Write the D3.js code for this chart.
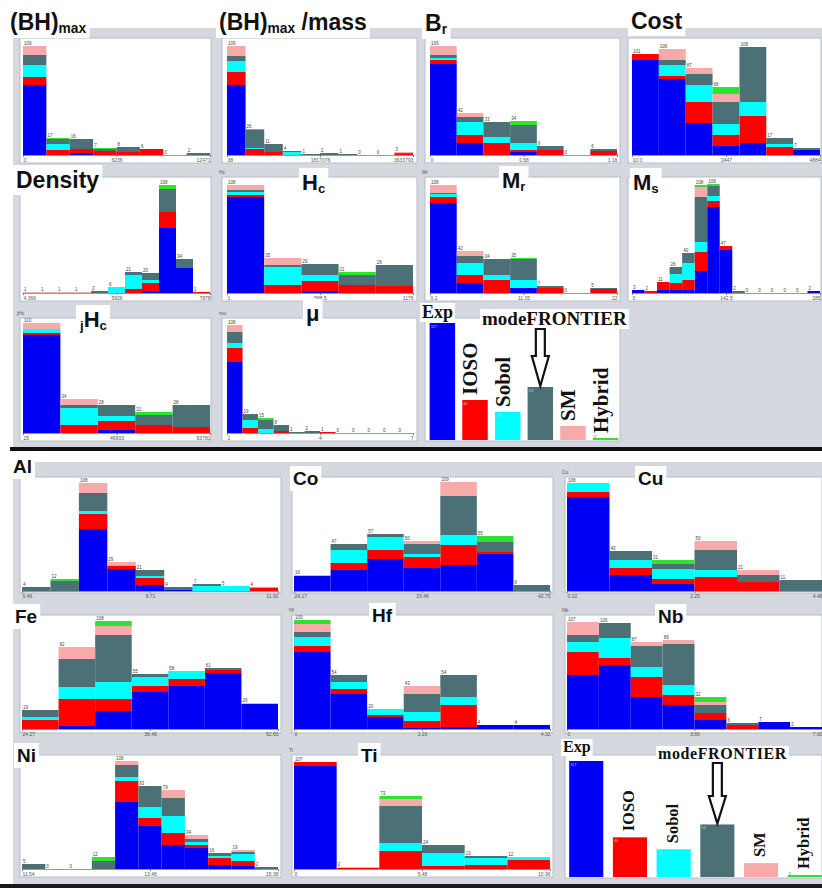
<!DOCTYPE html>
<html><head><meta charset="utf-8">
<script src="https://cdn.jsdelivr.net/npm/d3@7"></script>
<style>
html,body{margin:0;padding:0;background:#fff;}
svg{display:block;}
</style></head><body>
<svg id="chart" width="822" height="888"></svg>
<script>
// Optimisation methods, stacked bottom to top in every histogram
const methods = ["Exp", "IOSO", "Sobol", "modeFRONTIER", "SM", "Hybrid"];
const colors = ["#0000f4", "#ff0000", "#00ffff", "#4b7176", "#f8aaaa", "#2fe22f"];
const methodTotals = [117, 40, 28, 53, 14, 2];

// Histogram bins: one row per bin, counts per method in the order above
const bhmaxBins = [[70,8,12,10,9,0],[0,5,6,5,0,1],[2,4,0,10,0,0],[0,4,0,2,0,1],[0,3,0,5,0,0],[0,6,0,0,0,0],[0,0,0,0,0,0],[0,0,0,2,0,0]];
const bhmaxTicks = ["0", "6236", "12471"];
const bhmassBins = [[70,13,11,5,10,0],[0,6,1,18,0,1],[0,3,0,8,0,0],[0,0,3,1,0,0],[0,0,0,1,0,0],[0,0,0,2,0,0],[0,0,0,1,0,0],[0,0,0,0,0,0],[0,0,0,0,0,0],[0,1,0,1,1,0]];
const bhmassTicks = ["38", "1817076", "3633793"];
const brBins = [[91,4,2,3,9,0],[12,8,13,5,4,0],[0,12,6,15,0,0],[3,2,7,18,0,4],[0,5,0,4,0,0],[0,0,0,0,0,0],[0,4,0,2,0,0]];
const brTicks = ["0", "0.58", "1.16"];
const costBins = [[95,6,0,0,0,0],[76,3,11,5,11,0],[32,21,17,11,6,0],[9,11,11,22,8,7],[12,27,14,55,0,0],[0,8,3,6,0,0],[5,0,0,2,0,0]];
const costTicks = ["10.0", "2447", "4884"];
const densityBins = [[0,0,0,0,1,0],[0,0,0,0,1,0],[0,0,0,0,1,0],[0,0,0,0,1,0],[0,0,0,2,0,0],[0,0,6,0,0,0],[0,4,14,3,0,0],[2,8,3,7,0,0],[65,16,0,23,0,4],[25,0,0,9,0,0],[0,1,0,0,0,0]];
const densityTicks = ["4.366", "5926", "7878"];
const hcBins = [[96,2,3,2,5,0],[0,8,18,2,7,0],[2,10,6,11,0,0],[0,8,0,10,0,3],[0,7,0,21,0,0]];
const hcTicks = ["1", "588.5", "1176"];
const mrBins = [[90,6,3,1,8,0],[10,8,12,7,5,0],[0,13,5,16,0,0],[5,0,8,21,0,1],[0,5,0,2,0,0],[0,0,0,0,0,0],[0,4,0,1,0,0]];
const mrTicks = ["0.1", "11.05", "22"];
const msBins = [[3,0,0,0,0,0],[0,2,0,0,0,0],[3,8,0,0,0,0],[3,7,9,7,0,0],[3,10,17,10,0,0],[22,19,10,45,10,2],[86,6,5,10,0,2],[43,4,0,0,0,0],[0,0,0,2,0,0],[0,0,0,0,0,0],[0,0,0,0,0,0],[0,0,0,0,0,0],[0,0,0,0,0,0],[0,0,0,0,0,0],[2,0,0,0,0,0]];
const msTicks = ["0", "142.5", "285"];
const jhcBins = [[98,2,4,0,6,0],[0,8,17,3,6,0],[3,9,5,11,0,0],[0,8,0,10,0,3],[0,6,0,22,0,0]];
const jhcTicks = ["25", "46903", "93781"];
const muBins = [[71,14,5,11,7,0],[0,5,8,6,0,0],[0,0,4,9,0,2],[0,2,0,6,0,0],[0,0,0,1,0,0],[0,0,0,2,0,0],[0,1,0,0,0,0],[0,0,0,0,0,0],[0,0,0,0,0,0],[0,0,0,0,0,0],[0,0,0,0,0,0],[0,0,0,0,0,0]];
const muTicks = ["1", "4", "7"];

const alBins = [[0,0,0,4,0,0],[0,0,0,10,0,2],[62,15,3,18,10,0],[22,3,1,0,3,0],[6,7,2,6,0,0],[1,0,0,3,0,0],[0,0,5,2,0,0],[0,0,5,0,0,0],[0,3,1,0,0,0]];
const alTicks = ["5.46", "8.71", "11.92"];
const coBins = [[15,0,0,0,1,0],[21,7,13,6,0,0],[32,9,13,3,0,0],[23,11,3,10,3,0],[26,20,10,39,14,0],[37,2,0,10,0,6],[0,0,0,6,0,0]];
const coTicks = ["24.17", "33.46", "42.75"];
const cuBins = [[94,5,9,0,0,0],[16,7,8,9,0,0],[7,5,10,5,0,4],[0,14,7,20,9,0],[0,9,0,7,5,0],[0,0,0,11,0,0]];
const cuTicks = ["0.02", "2.25", "4.48"];
const feBins = [[0,9,3,7,0,0],[3,27,12,28,12,0],[18,12,17,47,9,5],[37,6,9,3,0,0],[43,7,8,0,0,0],[56,3,0,2,0,0],[25,0,0,0,1,0]];
const feTicks = ["24.27", "38.46", "52.65"];
const hfBins = [[77,6,9,5,8,4],[35,5,7,7,0,0],[12,2,6,0,0,0],[1,7,9,18,8,0],[2,22,8,22,0,0],[4,0,0,0,0,0],[4,0,0,0,0,0]];
const hfTicks = ["0", "2.16", "4.32"];
const nbBins = [[54,23,10,7,13,0],[64,7,20,15,0,0],[32,20,10,21,4,0],[24,10,10,41,4,0],[9,7,0,8,3,5],[0,4,0,2,0,0],[7,0,0,0,0,0],[2,0,0,0,0,0]];
const nbTicks = ["0", "3.80", "7.60"];
const niBins = [[0,0,0,5,0,0],[0,0,0,0,0,0],[0,0,0,0,0,0],[0,0,0,8,0,4],[67,21,4,12,4,0],[43,8,11,21,0,0],[24,12,17,18,8,0],[21,3,3,3,4,0],[4,7,2,3,0,0],[3,5,7,2,2,0],[0,0,0,2,0,0]];
const niTicks = ["11.54", "13.46", "15.38"];
const tiBins = [[103,4,0,0,0,0],[0,1,0,0,1,0],[0,18,8,37,7,3],[0,3,13,8,0,0],[0,4,7,2,0,0],[0,9,3,0,0,0]];
const tiTicks = ["0", "5.48", "10.96"];

// ---- layout ----
const W = 822, H = 888;
const svg = d3.select("#chart");
svg.append("rect").attr("width", W).attr("height", H).attr("fill", "#fff");

const frameFill = "#d5d8de";
svg.append("rect").attr("x", 13).attr("y", 28).attr("width", W - 13).attr("height", 420).attr("fill", frameFill);
svg.append("rect").attr("x", 13).attr("y", 462).attr("width", W - 13).attr("height", 422).attr("fill", frameFill);
svg.append("rect").attr("x", 10).attr("y", 447).attr("width", W - 10).attr("height", 4).attr("fill", "#111");
svg.append("rect").attr("x", 0).attr("y", 884).attr("width", W).attr("height", 4).attr("fill", "#1a1a1a");

const topCols = [
  {wx0: 20, wx1: 211, px0: 23, px1: 210},
  {wx0: 222, wx1: 417, px0: 227, px1: 413},
  {wx0: 425, wx1: 620, px0: 430, px1: 617},
  {wx0: 628, wx1: 821, px0: 632, px1: 820}
];
const topRows = [
  {wy0: 38, wy1: 163, base: 155},
  {wy0: 177, wy1: 301, base: 293},
  {wy0: 318, wy1: 441, base: 433}
];
const botCols = [
  {wx0: 20, wx1: 281, px0: 22, px1: 278},
  {wx0: 292, wx1: 553, px0: 294, px1: 550},
  {wx0: 565, wx1: 822, px0: 567, px1: 822}
];
const botRows = [
  {wy0: 477, wy1: 593, base: 591},
  {wy0: 615, wy1: 733, base: 729},
  {wy0: 755, wy1: 877, base: 869}
];

// cap: small frame caption, shown only where the big title tab does not cover it
const panels = [
  {cap: null, bins: bhmaxBins, ticks: bhmaxTicks, col: topCols[0], row: topRows[0]},
  {cap: null, bins: bhmassBins, ticks: bhmassTicks, col: topCols[1], row: topRows[0]},
  {cap: null, bins: brBins, ticks: brTicks, col: topCols[2], row: topRows[0]},
  {cap: null, bins: costBins, ticks: costTicks, col: topCols[3], row: topRows[0]},
  {cap: null, bins: densityBins, ticks: densityTicks, col: topCols[0], row: topRows[1]},
  {cap: "Hc", bins: hcBins, ticks: hcTicks, col: topCols[1], row: topRows[1]},
  {cap: "Mr", bins: mrBins, ticks: mrTicks, col: topCols[2], row: topRows[1]},
  {cap: null, bins: msBins, ticks: msTicks, col: topCols[3], row: topRows[1]},
  {cap: "jHc", bins: jhcBins, ticks: jhcTicks, col: topCols[0], row: topRows[2]},
  {cap: "mu", bins: muBins, ticks: muTicks, col: topCols[1], row: topRows[2]},
  {cap: null, bins: alBins, ticks: alTicks, col: botCols[0], row: botRows[0]},
  {cap: null, bins: coBins, ticks: coTicks, col: botCols[1], row: botRows[0]},
  {cap: "Cu", bins: cuBins, ticks: cuTicks, col: botCols[2], row: botRows[0]},
  {cap: null, bins: feBins, ticks: feTicks, col: botCols[0], row: botRows[1]},
  {cap: "Hf", bins: hfBins, ticks: hfTicks, col: botCols[1], row: botRows[1]},
  {cap: "Nb", bins: nbBins, ticks: nbTicks, col: botCols[2], row: botRows[1]},
  {cap: null, bins: niBins, ticks: niTicks, col: botCols[0], row: botRows[2]},
  {cap: "Ti", bins: tiBins, ticks: tiTicks, col: botCols[1], row: botRows[2]}
];

const stack = d3.stack().keys(d3.range(methods.length)).value((d, k) => d[k]);

function drawPanel(p) {
  const c = p.col, r = p.row;
  const g = svg.append("g");
  g.append("rect").attr("x", c.wx0).attr("y", r.wy0)
    .attr("width", c.wx1 - c.wx0).attr("height", r.wy1 - r.wy0)
    .attr("fill", "#fff").attr("stroke", "#b7bcc5");
  if (p.cap) {
    g.append("text").attr("x", c.wx0 - 3).attr("y", r.wy0 - 3)
      .attr("font-size", 5).attr("fill", "#555").attr("font-family", "Liberation Sans").text(p.cap);
  }

  const n = p.bins.length;
  const x = d3.scaleLinear().domain([0, n]).range([c.px0, c.px1]);
  const y = d3.scaleLinear().domain([0, 110]).range([r.base, r.base - 110]);

  g.selectAll("g.layer").data(stack(p.bins)).join("g").attr("class", "layer")
    .attr("fill", (d, i) => colors[i])
    .selectAll("rect").data(d => d.map((s, i) => ({s, i}))).join("rect")
    .attr("x", d => x(d.i)).attr("width", d => x(d.i + 1) - x(d.i))
    .attr("y", d => y(d.s[1])).attr("height", d => y(d.s[0]) - y(d.s[1]));

  const axis = d3.axisBottom(x).tickValues([0, n / 2, n])
    .tickFormat((d, i) => p.ticks[i]).tickSize(2).tickSizeOuter(0).tickPadding(1);
  const ax = g.append("g").attr("transform", `translate(0,${r.base})`).call(axis);
  ax.select(".domain").attr("stroke", "#8f95c9");
  ax.selectAll("line").attr("stroke", "#777");
  ax.selectAll("text").attr("font-size", 5).attr("fill", "#555").attr("font-family", "Liberation Sans")
    .attr("text-anchor", (d, i) => i === 0 ? "start" : (i === 2 ? "end" : "middle"));

  g.selectAll("text.cnt").data(p.bins).join("text").attr("class", "cnt")
    .attr("x", (d, i) => x(i) + 1).attr("y", d => y(d3.sum(d)) - 1.5)
    .attr("font-size", 4.5).attr("fill", "#444").attr("font-family", "Liberation Sans")
    .text(d => d3.sum(d));
}
panels.forEach(drawPanel);

// ---- legend panels: total count of designs per method ----
const legends = [
  {col: topCols[2], wy0: 318, wy1: 441, base: 440, hmax: 117, fs: 21, expX: 422, expY: 318, expFs: 18,
   mfX: 482, mfY: 325, mfFs: 19, mfLs: 0, arrowTop: 329, arrowHead: 356, dx: 2, gap: 5, range: [428, 620]},
  {col: botCols[2], wy0: 755, wy1: 878, base: 877, hmax: 116, fs: 16.5, expX: 563, expY: 752, expFs: 16,
   mfX: 658, mfY: 759, mfFs: 16, mfLs: 0.6, arrowTop: 763, arrowHead: 796, dx: 4, gap: 6, range: [567, 824]}
];

function drawLegend(L) {
  const g = svg.append("g");
  g.append("rect").attr("x", L.col.wx0).attr("y", L.wy0)
    .attr("width", L.col.wx1 - L.col.wx0).attr("height", L.wy1 - L.wy0)
    .attr("fill", "#fff").attr("stroke", "#b7bcc5");
  const x = d3.scaleBand().domain(methods).range(L.range).paddingInner(0.22).paddingOuter(0.05);
  const y = d3.scaleLinear().domain([0, d3.max(methodTotals)]).range([L.base, L.base - L.hmax]);
  g.selectAll("rect.bar").data(methods).join("rect").attr("class", "bar")
    .attr("x", d => x(d)).attr("width", x.bandwidth())
    .attr("y", (d, i) => y(methodTotals[i])).attr("height", (d, i) => L.base - y(methodTotals[i]))
    .attr("fill", (d, i) => colors[i]);
  // small count at the top of each bar: inside tall bars, just above short ones
  g.selectAll("text.cnt").data(methods).join("text").attr("class", "cnt")
    .attr("x", d => x(d) + 1)
    .attr("y", (d, i) => L.base - y(methodTotals[i]) > 8 ? y(methodTotals[i]) + 4.5 : y(methodTotals[i]) - 0.5)
    .attr("font-size", 4).attr("font-family", "Liberation Sans")
    .attr("fill", (d, i) => L.base - y(methodTotals[i]) > 8 ? "#c8c8c8" : "#555")
    .text((d, i) => methodTotals[i]);

  const serif = "'Liberation Serif', 'Times New Roman', serif";
  // rotated names above the bars (modeFRONTIER gets an arrow instead)
  methods.forEach((m, i) => {
    if (i === 0 || i === 3) return;
    const tx = x(m) + x.bandwidth() / 2 + L.dx;
    const ty = y(methodTotals[i]) - L.gap;
    g.append("text").attr("transform", `translate(${tx},${ty}) rotate(-90)`)
      .attr("font-family", serif).attr("font-weight", "bold").attr("font-size", L.fs)
      .attr("fill", "#111").text(m);
  });

  const label = (txt, xx, yy, fs, ls) => {
    const t = g.append("text").attr("x", xx).attr("y", yy)
      .attr("font-family", serif).attr("font-weight", "bold").attr("font-size", fs)
      .attr("letter-spacing", ls).attr("fill", "#111").text(txt);
    const b = t.node().getBBox();
    g.insert("rect", () => t.node()).attr("x", b.x - 2).attr("y", b.y + 1)
      .attr("width", b.width + 4).attr("height", b.height - 1).attr("fill", "#fff");
  };
  label(methods[0], L.expX, L.expY, L.expFs, 0);
  label(methods[3], L.mfX, L.mfY, L.mfFs, L.mfLs);

  // hollow arrow pointing at the modeFRONTIER bar
  const cx = x(methods[3]) + x.bandwidth() / 2;
  const tip = y(methodTotals[3]) - 1;
  const sw = 4.5, hw = 8.5;
  const pts = [[cx - sw, L.arrowTop], [cx + sw, L.arrowTop], [cx + sw, L.arrowHead], [cx + hw, L.arrowHead],
               [cx, tip], [cx - hw, L.arrowHead], [cx - sw, L.arrowHead]];
  g.append("path").attr("d", d3.line()(pts) + "Z")
    .attr("fill", "#fff").attr("stroke", "#111").attr("stroke-width", 2.2).attr("stroke-linejoin", "miter");
}
legends.forEach(drawLegend);

// ---- panel titles on white tabs ----
const titles = [
  {parts: [["(BH)", 0], ["max", 1]], x: 10, y: 30, s: 23},
  {parts: [["(BH)", 0], ["max", 1], [" /mass", 0]], x: 219, y: 30, s: 23},
  {parts: [["B", 0], ["r", 1]], x: 425, y: 31, s: 23},
  {parts: [["Cost", 0]], x: 631, y: 29, s: 23},
  {parts: [["Density", 0]], x: 16, y: 188, s: 23},
  {parts: [["H", 0], ["c", 1]], x: 302, y: 190, s: 22},
  {parts: [["M", 0], ["r", 1]], x: 502, y: 188, s: 22},
  {parts: [["M", 0], ["s", 1]], x: 633, y: 190, s: 22},
  {parts: [["j", 1], ["H", 0], ["c", 1]], x: 80, y: 327, s: 22},
  {parts: [["μ", 0]], x: 306, y: 321, s: 22},
  {parts: [["Al", 0]], x: 13, y: 473, s: 19},
  {parts: [["Co", 0]], x: 293, y: 485, s: 19},
  {parts: [["Cu", 0]], x: 638, y: 485, s: 19},
  {parts: [["Fe", 0]], x: 15, y: 623, s: 19},
  {parts: [["Hf", 0]], x: 372, y: 622, s: 19},
  {parts: [["Nb", 0]], x: 658, y: 623, s: 19},
  {parts: [["Ni", 0]], x: 17, y: 762, s: 19},
  {parts: [["Ti", 0]], x: 361, y: 762, s: 19}
];

titles.forEach(tt => {
  const g = svg.append("g");
  const t = g.append("text").attr("x", tt.x).attr("y", tt.y)
    .attr("font-family", "'Liberation Sans', Arial, sans-serif").attr("font-weight", "bold")
    .attr("font-size", tt.s).attr("fill", "#111");
  let off = 0;
  tt.parts.forEach(([txt, sub]) => {
    const target = sub ? Math.round(tt.s * 0.15) : 0;
    t.append("tspan").attr("dy", target - off).attr("font-size", sub ? tt.s * 0.6 : tt.s).text(txt);
    off = target;
  });
  const b = t.node().getBBox();
  g.insert("rect", () => t.node()).attr("x", b.x - 3).attr("y", b.y - 2)
    .attr("width", b.width + 6).attr("height", b.height + 4).attr("fill", "#fff");
});
</script>
</body></html>
